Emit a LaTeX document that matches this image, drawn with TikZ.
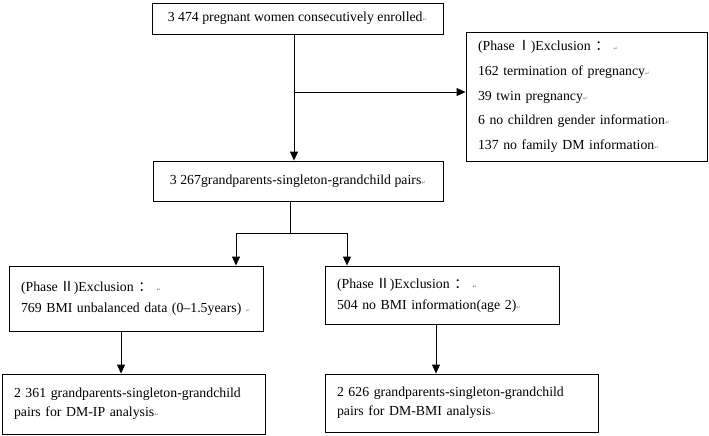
\documentclass[tikz,border=0pt]{standalone}
\usepackage{fontspec}
\setmainfont{Liberation Serif}
\newfontfamily\cjk{Noto Sans CJK SC}
\newfontfamily\markfont{DejaVu Sans}
\usetikzlibrary{positioning,arrows.meta}
\newcommand{\pmark}{{\markfont\fontsize{5.5}{6}\selectfont\color{gray}↵}}

\begin{document}
\begin{tikzpicture}[x=1pt,y=-1pt]
	\tikzstyle{flowbox} = [rectangle, align=left, inner xsep=12pt, inner ysep=0pt, draw=black, line width=0.9pt, font=\fontsize{13.8}{17}\selectfont]
	\tikzstyle{flowline} = [black, line width=0.9pt]
	\tikzstyle{flowarrow} = [flowline, -{Triangle[width=8pt,length=9pt]}]
	\useasboundingbox (0,0) rectangle (709,436);
	
	\node (enrol) at (297.5,18.5) [flowbox, minimum width=291pt, minimum height=31pt]{3 474 pregnant women consecutively enrolled\pmark};
	
	\node (exclone) at (586.5,96.5) [flowbox, text width=217pt, minimum height=129pt, font=\fontsize{13.8}{24.75}\selectfont]{(Phase\,{\cjk Ⅰ})Exclusion {\cjk ：} \pmark\\ 162 termination of pregnancy\pmark\\ 39 twin pregnancy\pmark\\ 6 no children gender information\pmark\\ 137 no family DM information\pmark};
	
	\node (pairs) at (298,181) [flowbox, minimum width=290pt, minimum height=40pt]{3 267grandparents-singleton-grandchild pairs\pmark};
	
	\node (excltwoa) at (136,298.5) [flowbox, text width=230pt, minimum height=65pt, font=\fontsize{13.8}{21}\selectfont]{(Phase\,{\cjk Ⅱ})Exclusion {\cjk ：} \pmark\\ \mbox{769 BMI unbalanced data (0--1.5years) \pmark}};
	\node (excltwob) at (442,295) [flowbox, text width=210pt, minimum height=58pt, font=\fontsize{13.8}{21}\selectfont]{(Phase\,{\cjk Ⅱ})Exclusion {\cjk ：} \pmark\\ 504 no BMI information(age 2)\pmark};
	
	\node (finala) at (133.5,404) [flowbox, text width=239pt, minimum height=60pt, font=\fontsize{13.8}{19}\selectfont]{\mbox{2 361 grandparents-singleton-grandchild}\\ pairs for DM-IP analysis\pmark};
	\node (finalb) at (461.5,403) [flowbox, text width=249pt, minimum height=58pt, font=\fontsize{13.8}{19}\selectfont]{2 626 grandparents-singleton-grandchild\\ pairs for DM-BMI analysis\pmark};
	
	%Splits
	\coordinate (splitone) at (294,92);
	\coordinate (splittwo) at (290,233);
	\coordinate (lefttwo) at (236,233);
	\coordinate (righttwo) at (347,233);
	\coordinate (downa) at (121,350);
	\coordinate (downb) at (436,350);
	
	%Arrows
	\draw[flowline] (enrol.south -| splitone) -- (splitone);
	\draw[flowarrow] (splitone) -- (splitone |- pairs.north);
	\draw[flowarrow] (splitone) -- (splitone -| exclone.west);
	\draw[flowline] (pairs.south -| splittwo) -- (splittwo);
	\draw[flowarrow] (splittwo) -- (lefttwo) -- (lefttwo |- excltwoa.north);
	\draw[flowarrow] (splittwo) -- (righttwo) -- (righttwo |- excltwob.north);
	\draw[flowarrow] (excltwoa.south -| downa) -- (finala.north -| downa);
	\draw[flowarrow] (excltwob.south -| downb) -- (finalb.north -| downb);
	
\end{tikzpicture}
\end{document}
